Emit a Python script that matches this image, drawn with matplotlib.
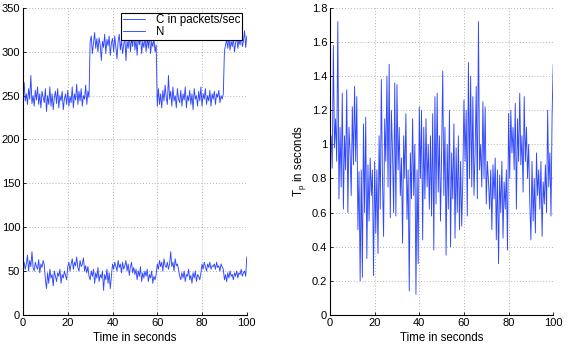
import numpy as np
import matplotlib
matplotlib.use("Agg")
import matplotlib.pyplot as plt
from matplotlib.ticker import FormatStrFormatter

plt.rcParams['font.family'] = ['Liberation Sans', 'DejaVu Sans']

C_values = [
    248, 265, 244, 252, 240, 258, 246, 273, 241, 250,
    238, 256, 245, 260, 240, 252, 236, 255, 248, 242,
    258, 232, 250, 240, 260, 238, 252, 234, 248, 255,
    241, 258, 236, 250, 244, 255, 234, 246, 252, 240,
    256, 238, 249, 242, 260, 236, 252, 245, 263, 240,
    255, 244, 258, 238, 250, 246, 262, 240, 255, 248,
    312, 318, 298, 310, 322, 304, 315, 300, 316, 308,
    290, 312, 305, 320, 298, 314, 307, 318, 296, 310,
    315, 300, 318, 305, 292, 312, 320, 302, 314, 298,
    308, 318, 290, 312, 304, 320, 300, 316, 306, 322,
    302, 314, 296, 318, 308, 320, 298, 312, 305, 318,
    300, 316, 304, 320, 298, 312, 306, 315, 300, 308,
    238, 258, 240, 252, 236, 256, 244, 262, 248, 240,
    273, 246, 255, 238, 260, 244, 250, 236, 258, 246,
    242, 256, 238, 252, 245, 260, 236, 250, 244, 256,
    240, 252, 234, 258, 246, 250, 238, 255, 244, 260,
    238, 252, 246, 258, 240, 250, 244, 256, 238, 252,
    246, 255, 240, 252, 248, 256, 242, 250, 246, 252,
    300, 308, 314, 304, 318, 302, 312, 306, 316, 300,
    310, 318, 304, 314, 308, 320, 306, 312, 324, 305,
    318,
]

N_values = [
    56, 60, 52, 58, 68, 50, 62, 55, 72, 54,
    50, 60, 55, 52, 63, 48, 58, 54, 62, 57,
    40, 30, 48, 36, 52, 42, 46, 33, 50, 44,
    38, 48, 44, 52, 36, 46, 42, 50, 45, 40,
    55, 60, 50, 58, 64, 52, 60, 56, 66, 54,
    50, 62, 55, 58, 65, 50, 56, 48, 55, 44,
    40, 50, 44, 52, 36, 48, 42, 54, 38, 46,
    42, 50, 28, 46, 40, 52, 36, 48, 30, 44,
    58, 52, 60, 55, 50, 62, 54, 58, 48, 60,
    52, 56, 62, 50, 58, 45, 55, 60, 48, 54,
    46, 52, 40, 50, 44, 55, 38, 48, 42, 50,
    44, 52, 38, 46, 42, 50, 36, 44, 40, 46,
    58, 52, 62, 55, 60, 50, 64, 56, 54, 60,
    52, 58, 72, 55, 60, 50, 64, 56, 58, 52,
    44, 40, 48, 42, 50, 38, 46, 44, 52, 40,
    45, 36, 48, 42, 50, 38, 46, 44, 40, 48,
    58, 52, 60, 55, 50, 58, 54, 60, 52, 56,
    55, 58, 52, 60, 54, 56, 50, 58, 55, 52,
    40, 46, 38, 48, 42, 50, 44, 46, 40, 48,
    44, 50, 42, 48, 46, 52, 44, 48, 50, 44,
    66,
]

Tp_values = [
    0.95, 1.05, 0.86, 1.58, 0.98, 1.15, 0.90, 1.72, 0.68, 1.10,
    0.75, 1.30, 0.62, 1.05, 0.85, 1.32, 0.60, 1.10, 0.95, 0.70,
    1.22, 0.88, 1.34, 0.90, 1.28, 0.50, 0.84, 0.20, 0.85, 0.22,
    1.12, 0.60, 1.16, 0.33, 0.88, 0.55, 0.92, 0.70, 0.85, 0.23,
    0.90, 0.48, 0.85, 0.36, 1.05, 0.62, 1.38, 0.80, 0.46, 1.15,
    0.90, 1.40, 0.75, 1.47, 0.57, 1.20, 0.95, 0.60, 1.36, 0.58,
    1.35, 0.85, 1.10, 0.70, 0.92, 0.42, 1.05, 0.80, 1.18, 0.56,
    0.85, 0.14, 0.95, 0.68, 1.15, 0.70, 1.00, 0.12, 0.85, 0.30,
    1.22, 0.80, 1.20, 0.44, 1.10, 0.68, 1.15, 0.75, 1.00, 0.62,
    1.05, 0.58, 1.18, 0.38, 1.28, 0.65, 1.30, 0.72, 1.05, 0.55,
    0.95, 1.43, 0.70, 1.10, 0.35, 1.00, 0.62, 1.20, 0.40, 0.95,
    0.68, 1.12, 0.45, 0.98, 0.60, 1.05, 0.50, 0.90, 0.52, 0.80,
    1.26, 0.90, 1.20, 0.58, 1.48, 0.80, 1.40, 0.75, 1.28, 0.70,
    0.95, 1.34, 0.68, 1.72, 0.85, 1.00, 0.75, 1.25, 0.80, 1.22,
    0.65, 0.90, 0.78, 0.62, 0.85, 0.50, 0.88, 0.68, 0.92, 0.44,
    0.85, 0.30, 0.82, 0.60, 0.90, 0.45, 0.78, 0.62, 0.85, 0.38,
    1.18, 0.80, 1.20, 0.95, 1.10, 0.85, 1.24, 0.62, 1.15, 0.90,
    1.30, 0.88, 1.05, 0.72, 1.28, 0.90, 1.10, 0.80, 1.00, 0.65,
    0.44, 0.90, 0.55, 0.80, 0.48, 0.95, 0.70, 0.85, 0.62, 0.90,
    0.46, 0.78, 0.65, 0.88, 0.60, 1.20, 0.75, 0.95, 0.58, 1.18,
    1.47,
]

t_end = 100
time = np.linspace(0, t_end, len(C_values))

left_yticks = [0, 50, 100, 150, 200, 250, 300, 350]
right_yticks = [0, 0.2, 0.4, 0.6, 0.8, 1.0, 1.2, 1.4, 1.6, 1.8]
xticks = [0, 20, 40, 60, 80, 100]

color = '#2f47ff'
fs_tick = 8
fs_label = 8.3

fig = plt.figure(figsize=(5.68, 3.46), dpi=100)
ax1 = fig.add_axes([0.0405, 0.09, 0.394, 0.887])
ax2 = fig.add_axes([0.581, 0.09, 0.393, 0.887])

ax1.plot(time, C_values, color=color, lw=0.65, label='C in packets/sec')
ax1.plot(time, N_values, color=color, lw=0.65, label='N')
ax1.set_xlim(0, 100)
ax1.set_ylim(0, 350)
ax1.set_yticks(left_yticks)
ax1.set_xticks(xticks)
ax1.set_xlabel('Time in seconds', fontsize=fs_label, labelpad=3.5)
leg = ax1.legend(loc='upper right', fontsize=8.3, frameon=True, fancybox=False,
                 edgecolor='black', borderpad=0.15, handlelength=1.9,
                 labelspacing=0.0, borderaxespad=0.4, handletextpad=1.0,
                 framealpha=1)
leg.get_frame().set_linewidth(0.8)

ax2.plot(time, Tp_values, color=color, lw=0.65)
ax2.set_xlim(0, 100)
ax2.set_ylim(0, 1.8)
ax2.set_yticks(right_yticks)
ax2.yaxis.set_major_formatter(FormatStrFormatter('%g'))
ax2.set_xticks(xticks)
ax2.set_xlabel('Time in seconds', fontsize=fs_label, labelpad=3.5)
ax2.set_ylabel('T$_\\mathregular{p}$ in seconds', fontsize=fs_label, labelpad=3)

for ax in (ax1, ax2):
    ax.grid(True, linestyle=(0, (1, 2.5)), color='#999999', linewidth=0.6)
    ax.spines['top'].set_visible(False)
    ax.spines['right'].set_visible(False)
    ax.spines['left'].set_linewidth(0.8)
    ax.spines['bottom'].set_linewidth(0.8)
    ax.tick_params(direction='in', length=2.5, width=0.6, labelsize=fs_tick, pad=2)

fig.savefig('out.png', dpi=100)
